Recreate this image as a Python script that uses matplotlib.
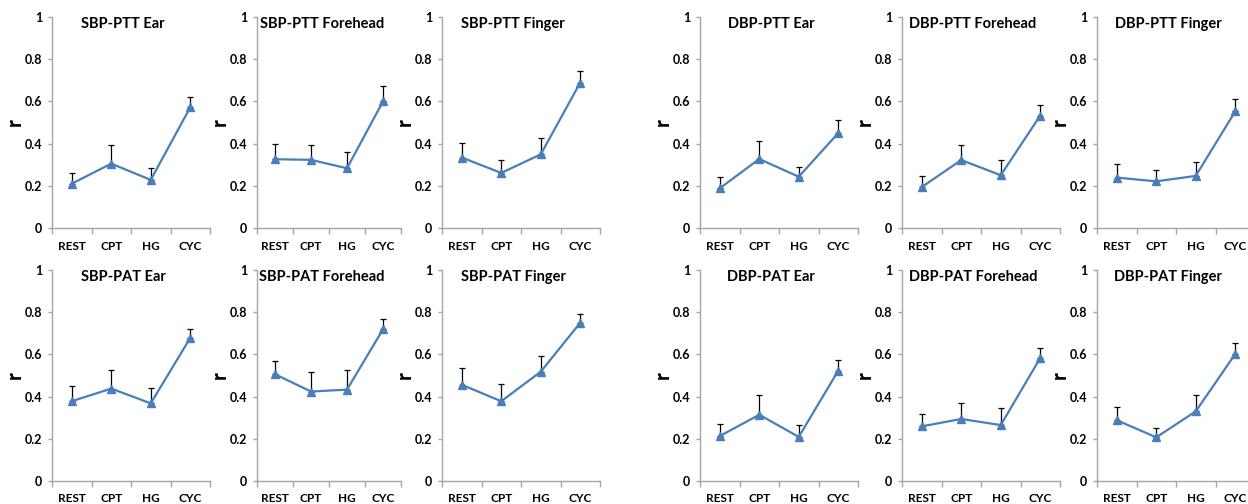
import numpy as np
import matplotlib
matplotlib.use("Agg")
import matplotlib.pyplot as plt
from matplotlib.ticker import FixedLocator

plt.rcParams['font.family'] = ['Lato', 'DejaVu Sans']

conditions = ['REST', 'CPT', 'HG', 'CYC']

titles = [
    'SBP-PTT Ear', 'SBP-PTT Forehead', 'SBP-PTT Finger',
    'DBP-PTT Ear', 'DBP-PTT Forehead', 'DBP-PTT Finger',
    'SBP-PAT Ear', 'SBP-PAT Forehead', 'SBP-PAT Finger',
    'DBP-PAT Ear', 'DBP-PAT Forehead', 'DBP-PAT Finger',
]

# mean correlation r per condition
sbp_ptt_ear = [0.21, 0.305, 0.228, 0.572]
sbp_ptt_forehead = [0.326, 0.323, 0.283, 0.600]
sbp_ptt_finger = [0.334, 0.261, 0.349, 0.689]
dbp_ptt_ear = [0.188, 0.327, 0.243, 0.450]
dbp_ptt_forehead = [0.194, 0.322, 0.250, 0.533]
dbp_ptt_finger = [0.239, 0.221, 0.247, 0.553]
sbp_pat_ear = [0.378, 0.438, 0.368, 0.678]
sbp_pat_forehead = [0.506, 0.424, 0.433, 0.719]
sbp_pat_finger = [0.456, 0.378, 0.518, 0.750]
dbp_pat_ear = [0.213, 0.314, 0.209, 0.523]
dbp_pat_forehead = [0.259, 0.294, 0.265, 0.583]
dbp_pat_finger = [0.288, 0.207, 0.330, 0.602]

# upper error bar lengths
sbp_ptt_ear_err = [0.05, 0.09, 0.055, 0.048]
sbp_ptt_forehead_err = [0.072, 0.072, 0.078, 0.072]
sbp_ptt_finger_err = [0.069, 0.062, 0.078, 0.055]
dbp_ptt_ear_err = [0.055, 0.085, 0.045, 0.06]
dbp_ptt_forehead_err = [0.054, 0.07, 0.07, 0.048]
dbp_ptt_finger_err = [0.062, 0.054, 0.067, 0.06]
sbp_pat_ear_err = [0.071, 0.086, 0.073, 0.041]
sbp_pat_forehead_err = [0.064, 0.093, 0.091, 0.051]
sbp_pat_finger_err = [0.081, 0.083, 0.075, 0.041]
dbp_pat_ear_err = [0.057, 0.093, 0.055, 0.052]
dbp_pat_forehead_err = [0.058, 0.076, 0.079, 0.046]
dbp_pat_finger_err = [0.062, 0.045, 0.079, 0.052]

means = [sbp_ptt_ear, sbp_ptt_forehead, sbp_ptt_finger,
         dbp_ptt_ear, dbp_ptt_forehead, dbp_ptt_finger,
         sbp_pat_ear, sbp_pat_forehead, sbp_pat_finger,
         dbp_pat_ear, dbp_pat_forehead, dbp_pat_finger]
errs = [sbp_ptt_ear_err, sbp_ptt_forehead_err, sbp_ptt_finger_err,
        dbp_ptt_ear_err, dbp_ptt_forehead_err, dbp_ptt_finger_err,
        sbp_pat_ear_err, sbp_pat_forehead_err, sbp_pat_finger_err,
        dbp_pat_ear_err, dbp_pat_forehead_err, dbp_pat_finger_err]

W, H = 1248, 504
fig = plt.figure(figsize=(W / 100, H / 100), dpi=100)

# panel placement in pixels (left, width) and rows (top, bottom)
col_px = [(52, 158), (257, 144), (442, 158), (700, 158), (902, 158), (1097, 158)]
row_px = [(17, 228), (270, 481)]

line_color = '#4A7EBB'
axis_gray = '#A6A6A6'
x = np.arange(len(conditions))

for i in range(12):
    r, c = divmod(i, 6)
    left, width = col_px[c]
    top, bottom = row_px[r]
    ax = fig.add_axes([left / W, 1 - bottom / H, width / W, (bottom - top) / H])

    ax.errorbar(x, means[i], yerr=[np.zeros(4), errs[i]], fmt='none',
                ecolor='black', elinewidth=0.9, capsize=2.5, capthick=0.9, zorder=2)
    ax.plot(x, means[i], color=line_color, lw=1.6, marker='^', ms=6,
            mfc=line_color, mec=line_color, zorder=3)

    ax.set_xlim(-0.5, 3.5)
    ax.set_ylim(0, 1)
    ax.set_yticks([0, 0.2, 0.4, 0.6, 0.8, 1.0])
    ax.set_yticklabels(['0', '0.2', '0.4', '0.6', '0.8', '1'])
    ax.set_xticks(x)
    ax.set_xticklabels(conditions)
    ax.xaxis.set_minor_locator(FixedLocator([-0.5, 0.5, 1.5, 2.5, 3.5]))
    ax.tick_params(axis='x', which='major', length=0, pad=9, labelsize=8.5)
    ax.tick_params(axis='x', which='minor', length=4, color=axis_gray, width=1)
    ax.tick_params(axis='y', length=3, color=axis_gray, width=1, pad=4, labelsize=9)
    for lab in ax.get_xticklabels() + ax.get_yticklabels():
        lab.set_fontweight('bold')

    for s in ['top', 'right']:
        ax.spines[s].set_visible(False)
    for s in ['left', 'bottom']:
        ax.spines[s].set_color(axis_gray)
        ax.spines[s].set_linewidth(1)

    # y label "r", placed about 37 px left of the axis
    ax.text(-37 / width, 0.5, 'r', transform=ax.transAxes, rotation=90,
            ha='center', va='center', fontsize=15, fontweight='bold')

    ax.text(0.45, 0.965, titles[i], transform=ax.transAxes, ha='center',
            va='center', fontsize=10.5, fontweight='bold')

fig.savefig('out.png', dpi=100)
